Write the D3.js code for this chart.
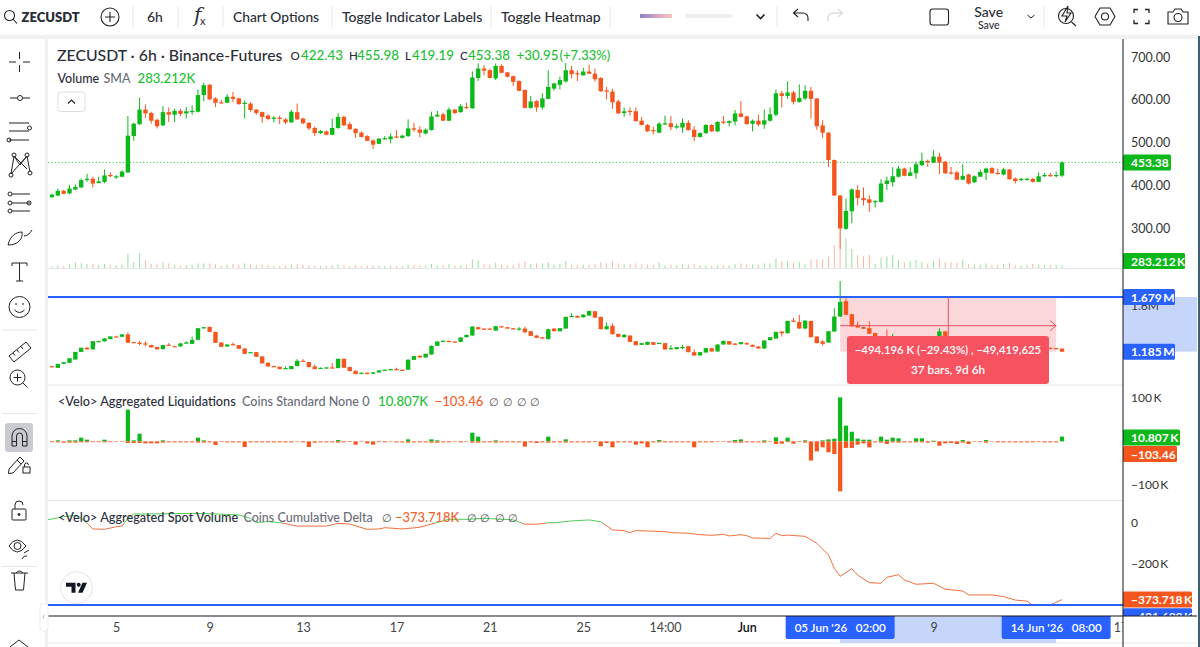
<!DOCTYPE html>
<html>
<head>
<meta charset="utf-8">
<script src="https://cdn.jsdelivr.net/npm/d3@7"></script>
<style>
html, body { margin: 0; padding: 0; background: #fff; overflow: hidden; }
svg { display: block; font-family: Lato, "Noto Sans", sans-serif; }
</style>
</head>
<body>
<svg id="chart" width="1200" height="647"></svg>
<script>
// ZECUSDT 6h, values
var openP = [372,376,387,381,390,395,412,415,405,408,
	424,419,420,430,515,543,577,569,553,540,
	571,565,574,568,573,572,611,635,603,594,
	593,607,603,592,591,577,571,563,556,558,
	554,547,571,556,546,534,522,526,518,534,
	560,543,532,523,515,505,497,509,508,514,
	511,515,533,530,521,529,561,566,551,577,
	571,583,580,651,673,669,650,679,664,655,
	644,623,581,597,582,602,626,635,643,669,
	662,657,666,661,651,622,619,596,569,574,
	573,551,541,529,523,543,545,535,535,546,
	530,513,522,541,526,549,546,549,568,561,
	544,551,542,551,565,615,609,617,595,603,
	621,603,540,523,459,376,298,339,389,370,
	367,361,361,403,407,420,439,422,428,447,
	457,453,467,455,430,430,413,425,407,420,
	429,440,429,425,437,416,413,413,415,408,
	421,424,422,422.43];
var closeP = [378,387,380,392,396,412,415,404,409,423,
	422,421,432,516,544,577,568,551,538,571,
	565,574,567,573,574,611,634,601,593,593,
	607,602,590,593,576,569,560,555,558,557,
	547,572,554,545,533,522,527,518,534,560,
	540,531,522,513,504,495,509,510,514,512,
	516,533,530,523,530,561,565,551,577,569,
	585,582,652,673,668,651,679,663,654,642,
	621,581,596,582,603,630,638,646,669,660,
	660,666,661,648,620,619,594,568,573,572,
	550,541,526,528,544,545,536,538,546,529,
	513,522,541,526,548,548,550,568,560,543,
	551,542,552,566,615,609,617,595,604,621,
	602,538,523,459,376,299,340,390,370,365,
	359,363,404,411,421,439,422,430,449,457,
	454,467,453,428,428,413,422,404,421,431,
	439,428,426,437,414,410,415,415,408,421,
	424,421,424,453.38];
var highP = [380,392,389,401,402,416,427,420,420,437,
	430,424,435,562,546,605,589,572,556,585,
	582,579,579,583,587,624,640,637,606,600,
	613,618,605,598,594,578,572,566,562,563,
	557,576,591,558,548,537,529,528,556,568,
	563,548,533,526,517,507,510,515,521,529,
	518,554,546,538,533,572,574,570,582,578,
	590,593,666,685,681,673,685,683,665,657,
	645,624,609,599,615,669,640,654,686,679,
	668,675,682,673,653,630,626,600,582,582,
	582,560,543,537,548,563,562,544,556,552,
	538,524,543,543,550,562,552,576,597,563,
	554,565,577,582,624,621,643,621,636,634,
	630,604,552,524,460,377,369,393,400,395,
	377,365,414,420,442,446,441,442,455,476,
	460,482,476,457,443,434,449,427,423,437,
	441,443,439,441,438,418,417,418,417,430,
	429,429,432,455.98];
var lowP = [371,374,379,379,389,393,408,395,405,405,
	419,415,419,429,504,541,558,544,533,539,
	548,548,562,556,565,570,597,599,583,592,
	592,595,588,556,572,565,546,552,547,543,
	543,546,553,543,529,515,520,517,517,532,
	539,529,511,512,503,485,496,507,498,510,
	509,513,525,512,519,528,559,550,550,566,
	570,579,579,644,657,650,646,662,652,632,
	620,580,579,572,577,601,622,624,640,650,
	644,657,660,643,618,601,579,567,560,563,
	549,540,525,519,522,541,529,532,523,528,
	503,511,520,525,525,543,538,540,558,542,
	526,538,532,549,561,582,602,589,593,599,
	556,530,511,443,375,251,296,311,353,353,
	338,348,359,389,397,418,421,421,415,445,
	443,452,426,427,425,412,412,402,405,419,
	412,427,425,423,413,404,410,411,406,407,
	420,420,418,419.19];
// volume in thousands
var volumeK = [63,101,76,126,227,176,151,164,126,151,
	113,101,126,529,227,580,302,151,151,202,
	176,113,88,113,126,176,176,176,139,88,
	126,151,126,176,126,101,126,101,76,88,
	101,126,151,113,113,88,76,76,101,126,
	126,88,101,88,101,113,101,76,101,76,
	88,126,113,101,101,151,101,126,151,101,
	101,113,328,277,151,126,202,126,101,126,
	176,252,151,176,176,227,126,151,277,126,
	101,126,126,151,227,176,252,176,151,151,
	176,151,126,126,202,101,126,101,126,126,
	151,101,101,88,101,101,101,151,176,151,
	126,126,176,176,353,252,252,202,227,151,
	328,328,328,441,882,731,1134,731,504,441,
	504,151,378,441,504,315,227,252,315,227,
	176,277,378,227,227,202,315,151,126,126,
	176,126,126,151,202,126,101,126,151,126,
	113,113,126,113];

// second pane candles, thousands
var oiOpen = [1054,1039,1075,1084,1114,1183,1221,1206,1275,1278,
	1299,1323,1320,1341,1272,1266,1260,1245,1227,1208,
	1248,1236,1233,1260,1256,1292,1397,1409,1364,1268,
	1232,1253,1244,1214,1178,1181,1142,1085,1055,1049,
	1031,1028,1055,1103,1091,1052,1034,1034,1043,1037,
	1121,1046,1013,992,995,986,998,1016,1022,1028,
	1022,1022,1112,1148,1133,1160,1238,1280,1283,1277,
	1274,1316,1331,1406,1394,1394,1376,1415,1406,1397,
	1388,1394,1370,1331,1316,1298,1394,1370,1394,1502,
	1508,1496,1511,1550,1499,1388,1418,1346,1316,1331,
	1280,1247,1247,1271,1256,1262,1208,1208,1220,1235,
	1181,1151,1178,1217,1187,1250,1280,1259,1253,1262,
	1247,1232,1214,1289,1304,1367,1352,1466,1454,1394,
	1463,1322,1277,1268,1367,1503,1641,1524,1428,1407,
	1398,1353,1323,1300,1290,1298,1285,1278,1270,1272,
	1282,1300,1323,1368,1322,1310,1296,1300,1288,1278,
	1284,1272,1262,1268,1258,1248,1252,1240,1236,1230,
	1226,1220,1218,1213];
var oiClose = [1048,1075,1090,1126,1183,1221,1206,1281,1281,1305,
	1323,1317,1341,1266,1266,1260,1254,1224,1206,1245,
	1239,1230,1260,1268,1292,1397,1406,1364,1265,1229,
	1250,1244,1211,1166,1181,1139,1079,1052,1049,1028,
	1037,1055,1103,1094,1046,1028,1040,1043,1037,1121,
	1040,1010,983,995,983,998,1016,1022,1028,1022,
	1019,1112,1145,1133,1166,1238,1277,1284,1280,1271,
	1313,1337,1412,1388,1385,1385,1415,1406,1394,1388,
	1394,1361,1328,1310,1304,1388,1370,1397,1499,1508,
	1493,1520,1553,1493,1388,1415,1343,1319,1337,1274,
	1244,1262,1274,1247,1265,1205,1217,1226,1229,1181,
	1151,1181,1217,1187,1250,1283,1250,1247,1271,1250,
	1229,1214,1286,1316,1364,1352,1463,1457,1394,1466,
	1316,1262,1256,1370,1502,1635,1518,1413,1404,1392,
	1347,1323,1300,1290,1300,1285,1278,1270,1272,1282,
	1300,1323,1368,1323,1310,1296,1300,1288,1278,1284,
	1272,1262,1268,1258,1248,1252,1240,1236,1230,1226,
	1220,1218,1213,1185];
var oiHigh = [1056,1041,1078,1086,1116,1185,1224,1208,1284,1308,
	1325,1325,1344,1360,1274,1281,1278,1248,1230,1248,
	1263,1238,1262,1280,1322,1399,1409,1412,1366,1270,
	1252,1268,1246,1216,1184,1183,1144,1087,1058,1051,
	1052,1057,1118,1118,1093,1067,1042,1045,1082,1123,
	1123,1048,1015,997,997,1000,1018,1024,1030,1040,
	1024,1118,1147,1150,1168,1240,1279,1286,1285,1279,
	1315,1339,1414,1408,1396,1396,1417,1417,1408,1399,
	1406,1412,1372,1333,1318,1392,1396,1400,1501,1532,
	1510,1522,1555,1552,1501,1451,1442,1348,1346,1333,
	1282,1264,1276,1273,1267,1264,1244,1228,1247,1237,
	1205,1183,1219,1219,1252,1285,1282,1261,1273,1272,
	1249,1234,1288,1318,1366,1369,1465,1490,1517,1468,
	1466,1324,1290,1372,1577,1823,1667,1528,1458,1410,
	1458,1355,1325,1383,1347,1300,1287,1280,1276,1284,
	1302,1325,1398,1370,1324,1312,1302,1302,1290,1286,
	1286,1274,1270,1270,1260,1254,1254,1242,1238,1232,
	1228,1225,1220,1215];
var oiLow = [1046,1037,1073,1082,1112,1181,1204,1204,1273,1276,
	1297,1315,1318,1264,1264,1242,1233,1222,1204,1206,
	1237,1228,1231,1258,1254,1290,1395,1362,1263,1227,
	1230,1242,1209,1164,1176,1137,1077,1050,1047,1026,
	1029,1026,1053,1092,1044,1026,1032,1032,1035,1035,
	1038,1008,981,990,981,984,996,1014,1020,1020,
	1017,1020,1110,1131,1131,1158,1236,1278,1278,1269,
	1272,1314,1329,1386,1383,1383,1374,1404,1392,1386,
	1376,1350,1326,1308,1302,1296,1368,1368,1392,1500,
	1491,1494,1509,1491,1386,1386,1341,1317,1314,1272,
	1242,1245,1245,1245,1254,1203,1206,1206,1208,1179,
	1149,1149,1176,1185,1185,1248,1248,1245,1251,1248,
	1227,1212,1212,1287,1302,1322,1350,1455,1392,1392,
	1314,1260,1240,1266,1365,1495,1515,1410,1398,1390,
	1345,1321,1298,1288,1288,1283,1276,1268,1268,1270,
	1280,1298,1321,1321,1308,1294,1294,1286,1276,1276,
	1270,1260,1260,1256,1246,1246,1238,1234,1228,1224,
	1218,1210,1211,1183];

// liquidations, thousands
var liqLong = [0,2.3,0,2.3,2.3,8.4,3.8,0,0,3.8,
	0,0,0,72.5,2.3,17.5,0,0,0,2.3,
	0,0,0,0,0,8.4,2.3,0,0,0,
	0,0,0,0,0,0,0,0,0,0,
	0,0,0,0,0,0,0,0,0,3,
	0,0,0,0,0,0,0,0,0,0,
	0,4.6,0,0,0,4.6,2.3,0,0,0,
	0,0,19.8,10.7,0,0,2.3,0,0,0,
	0,0,0,0,0,10.7,0,0,4.6,0,
	0,0,0,0,0,0,0,0,0,0,
	0,0,0,0,3,0,0,0,0,0,
	0,0,0,0,0,0,0,3,4.6,0,
	0,0,2.3,0,9.2,0,8.4,0,0,2.3,
	0,0,2.3,4.6,6.1,100.7,36,22,6.1,3.8,
	3.8,0,10.7,3.8,8.4,6.9,0,0,6.9,6.9,
	0,1.5,0,0,0,0,3,0,0,0,
	3,0,0,0,0,0,0,0,0,0,
	0,0,0,10.807];
var liqShort = [-1.8,-2.3,-3,-3,-3,-2.3,-2.3,-1.8,-1.8,-2.3,
	-1.8,-1.2,-1.2,-3.8,-3.8,-3.8,-4.6,-4.6,-4.6,-3,
	-2.3,-2.3,-2.3,-2.3,-2.3,-3,-3,-2.3,-8.4,-1.5,
	-2.3,-2.3,-2.3,-13,-2.3,-2.3,-2.3,-2.3,-2.3,-2.3,
	-2.3,-2.3,-1.2,-2.3,-13,-3,-2.3,-2.3,-2.3,-3,
	-2.3,-1.5,-7.6,-1.2,-4.6,-7.6,-1.8,-2.3,-1.2,-2.3,
	-2.3,-3,-2.3,-2.3,-2.3,-3,-3,-2.3,-2.3,-1.2,
	-2.3,-1.2,-3,-3,-2.3,-2.3,-3,-2.3,-2.3,-2.3,
	-2.3,-12,-2.3,-3.8,-2.3,-3,-2.3,-2.3,-3,-2.3,
	-2.3,-2.3,-2.3,-1.8,-11.4,-3.8,-13.7,-2.3,-2.3,-2.3,
	-7.6,-4.6,-13.7,-2.3,-2.3,-2.3,-2.3,-2.3,-2.3,-2.3,
	-13.7,-2.3,-2.3,-2.3,-1.2,-1.2,-2.3,-3,-3,-2.3,
	-2.3,-2.3,-3,-1.2,-6.1,-5.3,-1.8,-5.3,-1.5,-3,
	-44,-23,-13.7,-25,-29,-114.5,-15,-15,-7.6,-4.6,
	-13.7,-2.3,-3,-6.1,-2.3,-3,-2.3,-2.3,-2.3,-2.3,
	-3,-1.5,-10,-4.6,-3.8,-6.1,-3,-6.1,-1.2,-1.8,
	-3,-1.2,-2.3,-2.3,-2.3,-2.3,-2.3,-2.3,-2.3,-1.5,
	-2.3,-2.3,-2.3,-0.10346];

// cumulative delta, thousands, at the bars where the line visibly turns
var deltaBars = [-1,2,4,5,6,7,9,11,12,13,14,17,24,28,32,34,35,37,39,42,47,49,51,54,56,57,60,63,65,68,71,74,79,81,83,85,86,89,92,94,96,98,99,100,102,105,106,109,111,113,115,116,118,119,120,123,124,125,126,129,131,133,134,135,137,138,140,142,143,145,146,148,151,153,156,157,161,163,165,167,168,171,173];
var deltaVals = [14,31,37,23,-1,-29,-31,-18,-15,23,44,44,47,44,39,23,2,7,2,-15,-15,-2,-5,-31,-29,-23,-29,-21,-5,18,18,23,15,-6,-6,1,1,10,15,6,-34,-37,-47,-37,-39,-42,-47,-50,-57,-60,-55,-63,-57,-62,-73,-75,-50,-62,-59,-65,-99,-156,-221,-260,-223,-254,-291,-294,-265,-252,-278,-299,-294,-323,-332,-351,-351,-359,-376,-381,-400,-400,-373.718];

var tickBars = [11,27,43,59,75,91,105,119,151,183];
var tickLabels = ["5","9","13","17","21","25","14:00","Jun","9","17"];
var priceTicks = [700,600,500,400,300];
var liqTicks = [100,-100];
var deltaTicks = [0,-200];

var GREEN = "#0cb81a", ORANGE = "#f5561d", BLUE = "#2962ff", LABEL_GREEN = "#23bf34", LABEL_ORANGE = "#f4622a", INK = "#2a2e39", GREY = "#6a6d78";
var nBars = openP.length;
var bars = d3.range(nBars);
var svg = d3.select("#chart");

var x = d3.scaleLinear().domain([0, 173]).range([52, 1062]);
var priceY = d3.scaleLinear().domain([700, 300]).range([57, 228]);
var volY = d3.scaleLinear().domain([0, 283.212]).range([268, 260.6]);
var oiY = d3.scaleLinear().domain([1679, 1185]).range([297, 351.7]);
var liqY = d3.scaleLinear().domain([100, -100]).range([397.7, 485]);
var deltaY = d3.scaleLinear().domain([0, -200]).range([523, 564]);

svg.append("rect").attr("width", 1200).attr("height", 647).attr("fill", "#fff");
svg.append("rect").attr("x", 0).attr("y", 35).attr("width", 1200).attr("height", 4).attr("fill", "#f0f1f3");
svg.append("rect").attr("x", 45).attr("y", 35).attr("width", 3).attr("height", 612).attr("fill", "#f0f1f3");

var defs = svg.append("defs");
defs.append("clipPath").attr("id", "plot").append("rect").attr("x", 48).attr("y", 39).attr("width", 1075).attr("height", 577);
defs.append("clipPath").attr("id", "above").append("rect").attr("x", 48).attr("y", 501).attr("width", 1075).attr("height", deltaY(0) - 501);
defs.append("clipPath").attr("id", "below").append("rect").attr("x", 48).attr("y", deltaY(0)).attr("width", 1075).attr("height", 616 - deltaY(0));
defs.append("clipPath").attr("id", "tagclip").append("rect").attr("x", 1123).attr("y", 601).attr("width", 75).attr("height", 15);
defs.append("clipPath").attr("id", "timeclip").append("rect").attr("x", 48).attr("y", 617).attr("width", 1075).attr("height", 26);
var grad = defs.append("linearGradient").attr("id", "heat");
grad.append("stop").attr("offset", "0%").attr("stop-color", "#8f80c4");
grad.append("stop").attr("offset", "55%").attr("stop-color", "#d8a9c0");
grad.append("stop").attr("offset", "100%").attr("stop-color", "#f8c4c0");

// panes
[268.5, 385, 500.5].forEach(function(y) {
	svg.append("line").attr("x1", 48).attr("x2", 1123).attr("y1", y).attr("y2", y).attr("stroke", "#e4e6ea");
});
svg.append("line").attr("x1", 48).attr("x2", 1197).attr("y1", 643).attr("y2", 643).attr("stroke", "#e8eaee");

var plot = svg.append("g").attr("clip-path", "url(#plot)");

// measure box goes under the candles
plot.append("rect").attr("x", x(135)).attr("y", oiY(1679)).attr("width", x(172) - x(135)).attr("height", oiY(1185) - oiY(1679)).attr("fill", "#fcd8db");

// last price line
plot.append("line").attr("x1", 48).attr("x2", 1123).attr("y1", priceY(453.38)).attr("y2", priceY(453.38))
	.attr("stroke", "#3ecb4a").attr("stroke-dasharray", "1.2 2.2").attr("stroke-width", 1);

function candles(g, yScale, o, h, l, c) {
	var colour = function(i) { return c[i] >= o[i] ? GREEN : ORANGE; };
	g.selectAll(".wick").data(bars).enter().append("line").attr("class", "wick")
		.attr("x1", function(i) { return x(i); }).attr("x2", function(i) { return x(i); })
		.attr("y1", function(i) { return yScale(h[i]); }).attr("y2", function(i) { return yScale(l[i]); })
		.attr("stroke", colour).attr("stroke-width", 1);
	g.selectAll(".body").data(bars).enter().append("rect").attr("class", "body")
		.attr("x", function(i) { return x(i) - 2.2; }).attr("width", 4.4)
		.attr("y", function(i) { return yScale(Math.max(o[i], c[i])); })
		.attr("height", function(i) { return Math.max(1.2, Math.abs(yScale(o[i]) - yScale(c[i]))); })
		.attr("fill", colour);
}

plot.append("g").selectAll("rect").data(bars).enter().append("rect")
	.attr("x", function(i) { return x(i) - 0.5; }).attr("width", 1)
	.attr("y", function(i) { return volY(volumeK[i]); })
	.attr("height", function(i) { return volY(0) - volY(volumeK[i]); })
	.attr("fill", function(i) { return closeP[i] >= openP[i] ? GREEN : ORANGE; })
	.attr("opacity", 0.42);

candles(plot.append("g"), priceY, openP, highP, lowP, closeP);
candles(plot.append("g"), oiY, oiOpen, oiHigh, oiLow, oiClose);

// liquidations
plot.append("g").selectAll("rect").data(bars).enter().append("rect")
	.attr("x", function(i) { return x(i) - 2.1; }).attr("width", 4.2)
	.attr("y", function(i) { return liqY(liqLong[i]); })
	.attr("height", function(i) { return liqY(0) - liqY(liqLong[i]); })
	.attr("fill", GREEN);
plot.append("g").selectAll("rect").data(bars).enter().append("rect")
	.attr("x", function(i) { return x(i) - 2.1; }).attr("width", 4.2)
	.attr("y", liqY(0))
	.attr("height", function(i) { return liqY(liqShort[i]) - liqY(0); })
	.attr("fill", ORANGE);

// cumulative delta, split at zero
var deltaPath = d3.line().x(function(i) { return x(deltaBars[i]); }).y(function(i) { return deltaY(deltaVals[i]); })(d3.range(deltaBars.length));
plot.append("path").attr("d", deltaPath).attr("fill", "none").attr("stroke", "#4fcb55").attr("stroke-width", 1).attr("clip-path", "url(#above)");
plot.append("path").attr("d", deltaPath).attr("fill", "none").attr("stroke", "#f2703f").attr("stroke-width", 1).attr("clip-path", "url(#below)");

// blue ranges
svg.append("line").attr("x1", 48).attr("x2", 1123).attr("y1", oiY(1679)).attr("y2", oiY(1679)).attr("stroke", BLUE).attr("stroke-width", 2);
svg.append("line").attr("x1", 48).attr("x2", 1123).attr("y1", 605).attr("y2", 605).attr("stroke", BLUE).attr("stroke-width", 2);

// measure tool
var red = "#e8505f";
svg.append("line").attr("x1", x(135)).attr("x2", x(172)).attr("y1", 325.7).attr("y2", 325.7).attr("stroke", red);
svg.append("path").attr("d", "M" + (x(172) - 6) + " 320.7 L" + x(172) + " 325.7 L" + (x(172) - 6) + " 330.7").attr("fill", "none").attr("stroke", red);
svg.append("line").attr("x1", 948.3).attr("x2", 948.3).attr("y1", oiY(1679)).attr("y2", 336).attr("stroke", red);
svg.append("rect").attr("x", 847).attr("y", 336).attr("width", 202).attr("height", 48).attr("rx", 3).attr("fill", "#f7525f");
svg.append("text").attr("x", 948).attr("y", 353.5).attr("text-anchor", "middle").attr("fill", "#fff").attr("font-size", 11.4).attr("font-weight", 600).text("−494.196 K (−29.43%) , −49,419,625");
svg.append("text").attr("x", 948).attr("y", 373.5).attr("text-anchor", "middle").attr("fill", "#fff").attr("font-size", 11.8).attr("font-weight", 600).text("37 bars, 9d 6h");

// right scale
svg.append("rect").attr("x", 1123).attr("y", oiY(1679)).attr("width", 74).attr("height", oiY(1185) - oiY(1679)).attr("fill", "#c6d6fb");

function rightAxis(scale, values, fmt, size) {
	var g = svg.append("g").attr("transform", "translate(1123,0)")
		.call(d3.axisRight(scale).tickValues(values).tickSize(0).tickPadding(8).tickFormat(fmt));
	g.select(".domain").remove();
	g.selectAll("text").attr("font-family", "Lato, sans-serif").attr("font-size", size || 12.5).attr("fill", "#333");
}
rightAxis(priceY, priceTicks, d3.format(".2f"));
rightAxis(oiY, [1600], function() { return "1.6M"; }, 12);
rightAxis(liqY, liqTicks, function(d) { return d < 0 ? "−" + Math.abs(d) + "\u2009K" : d + "\u2009K"; }, 12);
rightAxis(deltaY, deltaTicks, function(d) { return d < 0 ? "−" + Math.abs(d) + "\u2009K" : d; }, 12);

function tag(y, right, fill, label, clip) {
	var g = svg.append("g");
	if (clip) g.attr("clip-path", "url(#tagclip)");
	g.append("rect").attr("x", 1123).attr("y", y - 8).attr("width", right - 1123).attr("height", 16).attr("rx", 1.5).attr("fill", fill);
	g.append("text").attr("x", 1131).attr("y", y + 4.5).attr("fill", "#fff").attr("font-size", 12).attr("font-weight", 700).text(label);
}
tag(priceY(453.38), 1171, GREEN, "453.38");
tag(261, 1185, GREEN, "283.212\u2009K");
tag(oiY(1679), 1175, BLUE, "1.679\u2009M");
tag(oiY(1185), 1175, BLUE, "1.185\u2009M");
tag(437.5, 1180, GREEN, "10.807\u2009K");
tag(454, 1177, ORANGE, "−103.46");
tag(deltaY(-373.718), 1192, ORANGE, "−373.718\u2009K");
tag(deltaY(-401.699) + 11, 1192, BLUE, "−401.699\u2009K", true);

// time scale
svg.append("rect").attr("x", x(135)).attr("y", 617).attr("width", x(172) - x(135)).attr("height", 26).attr("fill", "#c6d6fb");
var timeAxis = svg.append("g").attr("clip-path", "url(#timeclip)").append("g").attr("transform", "translate(0,616)")
	.call(d3.axisBottom(x).tickValues(tickBars).tickSize(0).tickPadding(7).tickFormat(function(d, i) { return tickLabels[i]; }));
timeAxis.select(".domain").remove();
timeAxis.selectAll("text").attr("font-family", "Lato, sans-serif").attr("font-size", 12.5).attr("fill", "#444")
	.filter(function(d, i) { return tickLabels[i] == "Jun"; }).attr("fill", "#111").attr("font-weight", 600);

function pill(bar, label) {
	var cx = x(bar);
	svg.append("path").attr("d", "M" + (cx - 54.5) + " 616 H" + (cx + 54.5) + " V637 a2 2 0 0 1 -2 2 H" + (cx - 52.5) + " a2 2 0 0 1 -2 -2 Z").attr("fill", BLUE);
	svg.append("text").attr("x", cx).attr("y", 632).attr("text-anchor", "middle").attr("fill", "#fff").attr("font-size", 11.6).attr("font-weight", 600).attr("xml:space", "preserve").text(label);
}
pill(135, "05 Jun '26   02:00");
pill(172, "14 Jun '26   08:00");

svg.append("line").attr("x1", 48).attr("x2", 1197).attr("y1", 616).attr("y2", 616).attr("stroke", "#131722");
svg.append("line").attr("x1", 1123).attr("x2", 1123).attr("y1", 39).attr("y2", 647).attr("stroke", "#131722");

// legends
function label(xp, y, text, fill, size, weight) {
	return svg.append("text").attr("x", xp).attr("y", y).attr("fill", fill).attr("font-size", size || 13).attr("font-weight", weight || 500).text(text);
}
label(57, 60.5, "ZECUSDT · 6h · Binance-Futures", INK, 15.8);
[[290.5, "O", INK, 11.5], [301, "422.43", LABEL_GREEN, 13.4], [349, "H", INK, 11.5], [357, "455.98", LABEL_GREEN, 13.4], [405, "L", INK, 11.5], [412, "419.19", LABEL_GREEN, 13.4],
 [460, "C", INK, 11.5], [468, "453.38", LABEL_GREEN, 13.4], [516.5, "+30.95", LABEL_GREEN, 13.4], [559.5, "(+7.33%)", LABEL_GREEN, 13]].forEach(function(d) {
	label(d[0], 60, d[1], d[2], d[3]);
});
label(57.5, 82.5, "Volume", INK, 12.5);
label(103.5, 82.5, "SMA", GREY, 12.5);
label(137.5, 82.5, "283.212K", LABEL_GREEN, 13.2);
svg.append("rect").attr("x", 58).attr("y", 92).attr("width", 27).attr("height", 19.5).attr("rx", 3).attr("fill", "#fff").attr("stroke", "#dcdee2");
svg.append("path").attr("d", "M68 103.5 l3.5 -3.5 l3.5 3.5").attr("fill", "none").attr("stroke", "#222").attr("stroke-width", 1.2);

label(58, 406, "<Velo> Aggregated Liquidations", INK, 12.7);
label(242, 406, "Coins Standard None 0", GREY, 12.6);
label(378, 406, "10.807K", LABEL_GREEN, 13.2);
label(434.5, 406, "−103.46", LABEL_ORANGE, 13.2);
[493, 506.5, 520.5, 534].forEach(function(p) { label(p - 4, 406, "∅", "#555", 11); });

label(58, 522, "<Velo> Aggregated Spot Volume", INK, 12.7);
label(243.5, 522, "Coins Cumulative Delta", GREY, 12.5);
label(382, 522, "∅", "#555", 11);
label(395, 522, "−373.718K", LABEL_ORANGE, 12.9);
[470.5, 484, 498.5, 511.5].forEach(function(p) { label(p - 4, 522, "∅", "#555", 11); });

// tradingview badge
var badge = svg.append("g").attr("transform", "translate(76.5,587.7)");
badge.append("circle").attr("r", 16).attr("fill", "#fff").attr("stroke", "#e3e5ea");
badge.append("path").attr("d", "M-10.5 -5 H-1 V5 H-5 V-1 H-10.5 Z M6 -5 H10.5 L6 5 H1.5 Z").attr("fill", "#131722");
badge.append("circle").attr("cx", 2.2).attr("cy", -3).attr("r", 2).attr("fill", "#131722");

// top toolbar
var tb = svg.append("g").attr("fill", "none").attr("stroke", "#222").attr("stroke-width", 1.1);
function sep(xp) { svg.append("line").attr("x1", xp).attr("x2", xp).attr("y1", 6).attr("y2", 27).attr("stroke", "#e6e7ea"); }
[133, 178, 223, 332, 491, 610, 777, 1044].forEach(sep);
tb.append("circle").attr("cx", 9.5).attr("cy", 15.5).attr("r", 5);
tb.append("path").attr("d", "M13 19 L17 23.5");
label(21.5, 21.5, "ZECUSDT", INK, 13, 800);
tb.append("circle").attr("cx", 110).attr("cy", 17).attr("r", 9);
tb.append("path").attr("d", "M110 12 V22 M105 17 H115");
label(147, 22, "6h", INK, 14);
label(194, 22, "f", INK, 20, 400).attr("font-family", "DejaVu Serif").attr("font-style", "italic");
label(200, 25, "x", INK, 11, 400);
label(233, 21.5, "Chart Options", INK, 13.8);
label(342, 21.5, "Toggle Indicator Labels", INK, 14);
label(501, 21.5, "Toggle Heatmap", INK, 14);
svg.append("rect").attr("x", 640).attr("y", 14).attr("width", 93).attr("height", 4).attr("rx", 2).attr("fill", "#eceef0");
svg.append("circle").attr("cx", 634).attr("cy", 16).attr("r", 7).attr("fill", "#fff");
svg.append("rect").attr("x", 640).attr("y", 14).attr("width", 32).attr("height", 4).attr("fill", "url(#heat)");
svg.append("circle").attr("cx", 679).attr("cy", 16).attr("r", 7).attr("fill", "#fff");
tb.append("path").attr("d", "M756.5 14.5 l4 4 l4 -4").attr("stroke-width", 1.6);
tb.append("path").attr("d", "M794 13 h9 a5 5 0 0 1 5 5 v3 M798 9 l-4.5 4 l4.5 4");
svg.append("path").attr("d", "M842 13 h-9 a5 5 0 0 0 -5 5 v3 M838 9 l4.5 4 l-4.5 4").attr("fill", "none").attr("stroke", "#c8cad0");
tb.append("rect").attr("x", 930).attr("y", 9).attr("width", 18.5).attr("height", 16).attr("rx", 2.5);
label(988.7, 17, "Save", INK, 14).attr("text-anchor", "middle");
label(988.7, 29, "Save", INK, 10.5).attr("text-anchor", "middle");
tb.append("path").attr("d", "M1027.5 15 l3.5 3 l3.5 -3").attr("stroke-width", 1);
tb.append("circle").attr("cx", 1066).attr("cy", 16).attr("r", 7.5);
tb.append("path").attr("d", "M1071.5 22 L1076 26 M1068 6 L1062 16 H1067 L1065 22 L1071 13 H1067 Z");
tb.append("path").attr("d", "M1095 16.5 L1100 8 H1110 L1115 16.5 L1110 25 H1100 Z");
tb.append("circle").attr("cx", 1105).attr("cy", 16.5).attr("r", 3.5);
tb.append("path").attr("d", "M1134 13 V9.5 H1138 M1145 9.5 H1149 V13 M1149 20 V23.5 H1145 M1138 23.5 H1134 V20").attr("stroke-width", 1.3);
tb.append("path").attr("d", "M1168 12 H1173 L1175 9 H1181 L1183 12 H1188 V24 H1168 Z");
tb.append("circle").attr("cx", 1178).attr("cy", 17.5).attr("r", 4);

// left toolbar
svg.append("rect").attr("x", 5).attr("y", 423).attr("width", 28).attr("height", 29).attr("rx", 3).attr("fill", "#c9cbd0");
var lt = svg.append("g").attr("fill", "none").attr("stroke", "#222").attr("stroke-width", 1);
lt.append("path").attr("d", "M9 62 H16 M23 62 H30 M19.5 52 V59 M19.5 65 V72");
lt.append("path").attr("d", "M10 98 H17 M23 98 H30").attr("stroke-width", 1);
lt.append("circle").attr("cx", 20).attr("cy", 98).attr("r", 2.5);
lt.append("path").attr("d", "M9 123 H29 M9 131 H29 M9 140 H29");
lt.append("circle").attr("cx", 29.5).attr("cy", 128).attr("r", 2);
lt.append("circle").attr("cx", 9).attr("cy", 140).attr("r", 2);
lt.append("path").attr("d", "M11 174 L14 156 L20 165 L27 156 L30 172 M14 156 L27 169 M27 156 L11 174");
lt.append("circle").attr("cx", 11).attr("cy", 175).attr("r", 2);
lt.append("circle").attr("cx", 14).attr("cy", 155).attr("r", 2);
lt.append("circle").attr("cx", 27).attr("cy", 155).attr("r", 2);
lt.append("circle").attr("cx", 30).attr("cy", 173).attr("r", 2);
lt.append("path").attr("d", "M12 194 H30 M12 203 H30 M12 211 H30");
lt.append("circle").attr("cx", 10).attr("cy", 194).attr("r", 2);
lt.append("circle").attr("cx", 10).attr("cy", 203).attr("r", 2);
lt.append("circle").attr("cx", 10).attr("cy", 211).attr("r", 2);
lt.append("circle").attr("cx", 29).attr("cy", 203).attr("r", 2);
lt.append("path").attr("d", "M8 245 C10 236 16 232 22 232 C23 238 19 245 8 245 Z M24 236 C28 236 30 233 32 230");
lt.append("path").attr("d", "M12 266 V263 H27 V266 M19.5 263 V281 M16 281 H23");
lt.append("circle").attr("cx", 19.5).attr("cy", 307).attr("r", 10.5);
lt.append("path").attr("d", "M14.5 310 Q19.5 315 24.5 310 M16 303 v2 M23 303 v2");
lt.append("path").attr("d", "M9 356 L26 342 L31 348 L14 362 Z M13 353 l2 2.5 M17 350 l2 2.5 M21 346.5 l2 2.5");
lt.append("circle").attr("cx", 17.5).attr("cy", 377.5).attr("r", 7.5);
lt.append("path").attr("d", "M23 383 L27.5 387.5 M17.5 373.5 V381.5 M13.5 377.5 H21.5");
lt.append("path").attr("d", "M12 446 V436 a7.5 7.5 0 0 1 15 0 V446 H22.5 V436 a3 3 0 0 0 -6 0 V446 Z M12 441.5 H16.5 M22.5 441.5 H27");
lt.append("path").attr("d", "M9 469 L20 457 L24 461 L13 473 L8.5 473.5 Z M17 460 l4 4");
lt.append("rect").attr("x", 23).attr("y", 467).attr("width", 7).attr("height", 6);
lt.append("path").attr("d", "M24.5 467 v-2 a2 2 0 0 1 4 0");
lt.append("rect").attr("x", 12).attr("y", 509).attr("width", 14).attr("height", 11).attr("rx", 1);
lt.append("path").attr("d", "M15 509 v-4 a4 4 0 0 1 8 0");
lt.append("circle").attr("cx", 19).attr("cy", 514.5).attr("r", 1).attr("fill", "#222");
lt.append("path").attr("d", "M9 546 Q17 534 26 546 Q17 558 9 546 Z");
lt.append("circle").attr("cx", 17.5).attr("cy", 546).attr("r", 3.5);
lt.append("path").attr("d", "M22 559 Q24 555 27 556 M24 553 L29 550");
lt.append("path").attr("d", "M11 573 H28 M14 573 L15.5 590 H23.5 L25 573 M16 573 Q19.5 569 23 573");
lt.append("path").attr("d", "M10 647 L19 640 L28 647");
[330, 413.5, 566.5].forEach(function(y) {
	svg.append("line").attr("x1", 2).attr("x2", 37).attr("y1", y).attr("y2", y).attr("stroke", "#e6e7ea");
});
svg.append("rect").attr("x", 40).attr("y", 604).attr("width", 8).attr("height", 27).attr("rx", 3).attr("fill", "#fff").attr("stroke", "#eceef0");
svg.append("path").attr("d", "M44.5 615 l-1.5 2 l1.5 2").attr("fill", "none").attr("stroke", "#bbb");

// sliver on the right edge of the screenshot
svg.append("rect").attr("x", 1198).attr("y", 36).attr("width", 2).attr("height", 611).attr("fill", "#3f5f72");
</script>
</body>
</html>
